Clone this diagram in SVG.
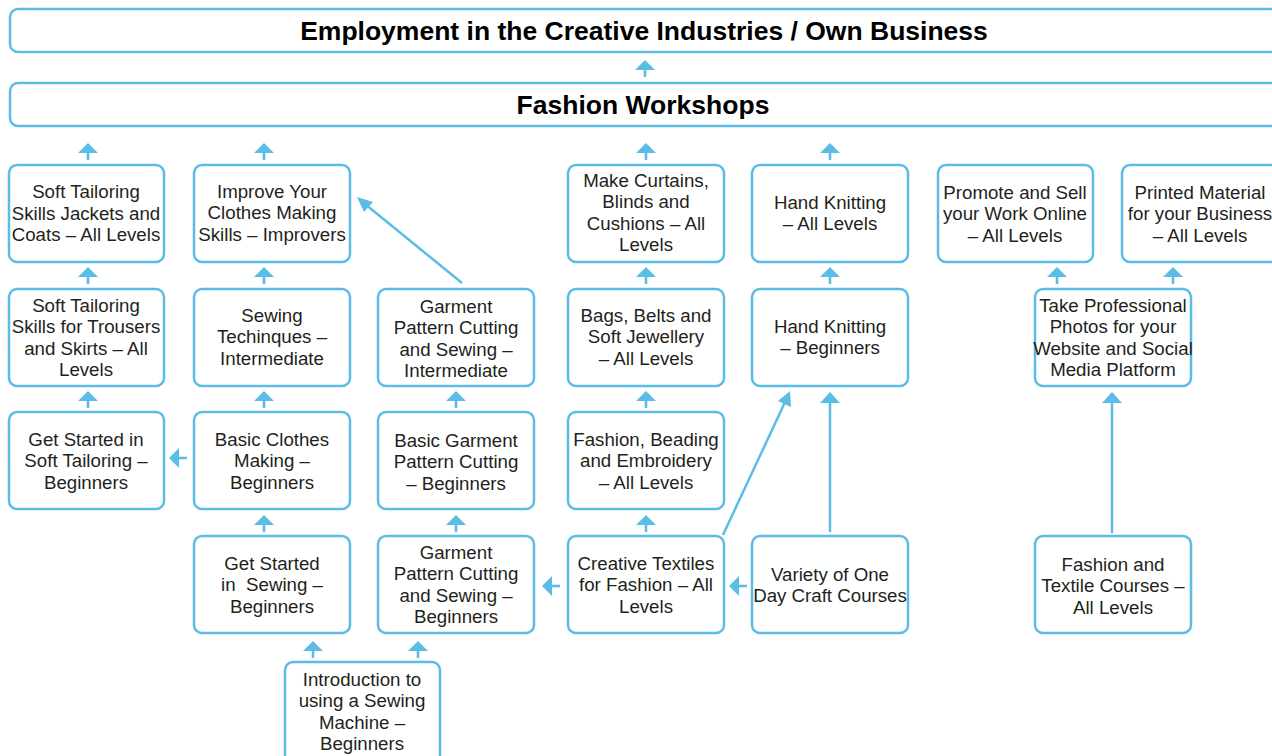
<svg xmlns="http://www.w3.org/2000/svg" width="1272" height="756" viewBox="0 0 1272 756">
<style>
.box{fill:#fff;stroke:#5bbde6;stroke-width:2.5}
.t{font-family:"Liberation Sans",Arial,sans-serif;font-size:18.7px;fill:#231f20;text-anchor:middle}
.h{font-family:"Liberation Sans",Arial,sans-serif;font-size:26.5px;font-weight:bold;fill:#000;text-anchor:middle}
.ln{stroke:#5bbde6;stroke-width:2.5;fill:none}
.hd{fill:#5bbde6}
</style>
<defs>
<g id="up"><path class="hd" d="M0,0 L10,10 L-10,10 Z"/><rect class="hd" x="-1.3" y="9" width="2.6" height="8"/></g>
<g id="left"><path class="hd" d="M0,0 L10,-10 L10,10 Z"/><rect class="hd" x="9" y="-1.3" width="9" height="2.6"/></g>
</defs>
<rect width="1272" height="756" fill="#fff"/>
<g id="n-employment"><rect class="box" x="10" y="9" width="1290" height="43" rx="8"/><text class="h" x="644" y="40">Employment in the Creative Industries / Own Business</text></g>
<g id="n-workshops"><rect class="box" x="10" y="83" width="1290" height="43" rx="8"/><text class="h" x="643" y="114">Fashion Workshops</text></g>

<g id="n-jackets"><rect class="box" x="9" y="165" width="155" height="97" rx="8"/><text class="t" x="86" y="198">Soft Tailoring<tspan x="86" dy="21.5">Skills Jackets and</tspan><tspan x="86" dy="21.5">Coats – All Levels</tspan></text></g>
<g id="n-trousers"><rect class="box" x="9" y="289" width="155" height="97" rx="8"/><text class="t" x="86" y="311.5">Soft Tailoring<tspan x="86" dy="21.5">Skills for Trousers</tspan><tspan x="86" dy="21.5">and Skirts – All</tspan><tspan x="86" dy="21.5">Levels</tspan></text></g>
<g id="n-softstart"><rect class="box" x="9" y="412" width="155" height="97" rx="8"/><text class="t" x="86" y="445.5">Get Started in<tspan x="86" dy="21.5">Soft Tailoring –</tspan><tspan x="86" dy="21.5">Beginners</tspan></text></g>

<g id="n-improve"><rect class="box" x="194" y="165" width="156" height="97" rx="8"/><text class="t" x="272" y="197.5">Improve Your<tspan x="272" dy="21.5">Clothes Making</tspan><tspan x="272" dy="21.5">Skills – Improvers</tspan></text></g>
<g id="n-techniques"><rect class="box" x="194" y="289" width="156" height="97" rx="8"/><text class="t" x="272" y="321.5">Sewing<tspan x="272" dy="21.5">Techinques –</tspan><tspan x="272" dy="21.5">Intermediate</tspan></text></g>
<g id="n-basicclothes"><rect class="box" x="194" y="412" width="156" height="97" rx="8"/><text class="t" x="272" y="445.5">Basic Clothes<tspan x="272" dy="21.5">Making –</tspan><tspan x="272" dy="21.5">Beginners</tspan></text></g>
<g id="n-getstarted"><rect class="box" x="194" y="536" width="156" height="97" rx="8"/><text class="t" x="272" y="569.5">Get Started<tspan x="272" dy="21.5">in&#160; Sewing –</tspan><tspan x="272" dy="21.5">Beginners</tspan></text></g>

<g id="n-garmentint"><rect class="box" x="378" y="289" width="156" height="97" rx="8"/><text class="t" x="456" y="312.5">Garment<tspan x="456" dy="21.5">Pattern Cutting</tspan><tspan x="456" dy="21.5">and Sewing –</tspan><tspan x="456" dy="21.5">Intermediate</tspan></text></g>
<g id="n-basicgarment"><rect class="box" x="378" y="412" width="156" height="97" rx="8"/><text class="t" x="456" y="446.5">Basic Garment<tspan x="456" dy="21.5">Pattern Cutting</tspan><tspan x="456" dy="21.5">– Beginners</tspan></text></g>
<g id="n-garmentbeg"><rect class="box" x="378" y="536" width="156" height="97" rx="8"/><text class="t" x="456" y="558.5">Garment<tspan x="456" dy="21.5">Pattern Cutting</tspan><tspan x="456" dy="21.5">and Sewing –</tspan><tspan x="456" dy="21.5">Beginners</tspan></text></g>

<g id="n-curtains"><rect class="box" x="568" y="165" width="156" height="97" rx="8"/><text class="t" x="646" y="186.5">Make Curtains,<tspan x="646" dy="21.5">Blinds and</tspan><tspan x="646" dy="21.5">Cushions – All</tspan><tspan x="646" dy="21.5">Levels</tspan></text></g>
<g id="n-bags"><rect class="box" x="568" y="289" width="156" height="97" rx="8"/><text class="t" x="646" y="321.5">Bags, Belts and<tspan x="646" dy="21.5">Soft Jewellery</tspan><tspan x="646" dy="21.5">– All Levels</tspan></text></g>
<g id="n-beading"><rect class="box" x="568" y="412" width="156" height="97" rx="8"/><text class="t" x="646" y="445.5">Fashion, Beading<tspan x="646" dy="21.5">and Embroidery</tspan><tspan x="646" dy="21.5">– All Levels</tspan></text></g>
<g id="n-creative"><rect class="box" x="568" y="536" width="156" height="97" rx="8"/><text class="t" x="646" y="569.5">Creative Textiles<tspan x="646" dy="21.5">for Fashion – All</tspan><tspan x="646" dy="21.5">Levels</tspan></text></g>

<g id="n-knitall"><rect class="box" x="752" y="165" width="156" height="97" rx="8"/><text class="t" x="830" y="208.5">Hand Knitting<tspan x="830" dy="21.5">– All Levels</tspan></text></g>
<g id="n-knitbeg"><rect class="box" x="752" y="289" width="156" height="97" rx="8"/><text class="t" x="830" y="332.5">Hand Knitting<tspan x="830" dy="21.5">– Beginners</tspan></text></g>
<g id="n-variety"><rect class="box" x="752" y="536" width="156" height="97" rx="8"/><text class="t" x="830" y="580.5">Variety of One<tspan x="830" dy="21.5">Day Craft Courses</tspan></text></g>

<g id="n-promote"><rect class="box" x="938" y="165" width="155" height="97" rx="8"/><text class="t" x="1015" y="198.5">Promote and Sell<tspan x="1015" dy="21.5">your Work Online</tspan><tspan x="1015" dy="21.5">– All Levels</tspan></text></g>
<g id="n-printed"><rect class="box" x="1122" y="165" width="160" height="97" rx="8"/><text class="t" x="1200" y="198.5">Printed Material<tspan x="1200" dy="21.5">for your Business</tspan><tspan x="1200" dy="21.5">– All Levels</tspan></text></g>
<g id="n-photos"><rect class="box" x="1035" y="289" width="156" height="97" rx="8"/><text class="t" x="1113" y="311.5">Take Professional<tspan x="1113" dy="21.5">Photos for your</tspan><tspan x="1113" dy="21.5">Website and Social</tspan><tspan x="1113" dy="21.5">Media Platform</tspan></text></g>
<g id="n-fashiontextile"><rect class="box" x="1035" y="536" width="156" height="97" rx="8"/><text class="t" x="1113" y="570.5">Fashion and<tspan x="1113" dy="21.5">Textile Courses –</tspan><tspan x="1113" dy="21.5">All Levels</tspan></text></g>

<g id="n-intro"><rect class="box" x="285" y="662" width="155" height="110" rx="8"/><text class="t" x="362" y="685.5">Introduction to<tspan x="362" dy="21.5">using a Sewing</tspan><tspan x="362" dy="21.5">Machine –</tspan><tspan x="362" dy="21.5">Beginners</tspan></text></g>

<g id="connectors">
<use href="#up" x="645" y="60"/>
<use href="#up" x="88" y="143"/>
<use href="#up" x="264" y="143"/>
<use href="#up" x="646" y="143"/>
<use href="#up" x="830" y="143"/>
<use href="#up" x="88" y="267"/>
<use href="#up" x="264" y="267"/>
<use href="#up" x="646" y="267"/>
<use href="#up" x="830" y="267"/>
<use href="#up" x="1057" y="267"/>
<use href="#up" x="1173" y="267"/>
<use href="#up" x="88" y="391"/>
<use href="#up" x="264" y="391"/>
<use href="#up" x="456" y="391"/>
<use href="#up" x="646" y="391"/>
<use href="#up" x="264" y="515"/>
<use href="#up" x="456" y="515"/>
<use href="#up" x="646" y="515"/>
<use href="#up" x="313" y="641"/>
<use href="#up" x="418" y="641"/>
<use href="#left" x="169" y="458"/>
<use href="#left" x="542" y="586"/>
<use href="#left" x="729" y="586"/>
<line class="ln" x1="462" y1="283" x2="365" y2="204"/>
<path class="hd" d="M357,197 L373,202 L364,212 Z"/>
<line class="ln" x1="723" y1="535" x2="786" y2="400"/>
<path class="hd" d="M790,391 L791,407 L778,401 Z"/>
<line class="ln" x1="830" y1="532" x2="830" y2="400"/>
<path class="hd" d="M830,392 L840,403 L820,403 Z"/>
<line class="ln" x1="1112" y1="533" x2="1112" y2="400"/>
<path class="hd" d="M1112,392 L1122,403 L1102,403 Z"/>
</g>
</svg>
